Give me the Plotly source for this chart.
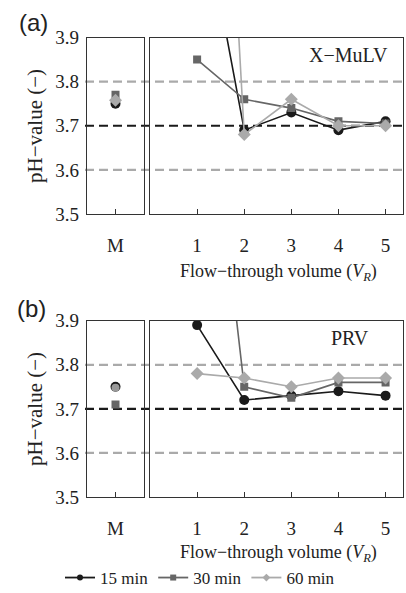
import plotly.graph_objects as go

# ---------------- data ----------------
vr = [1, 2, 3, 4, 5]
m_cat = ["M"]

series_names = ["15 min", "30 min", "60 min"]

# Panel (a) X-MuLV
a_15 = [4.26, 3.69, 3.73, 3.69, 3.71]
a_30 = [3.85, 3.76, 3.74, 3.71, 3.705]
a_60 = [5.60, 3.68, 3.76, 3.70, 3.70]
a_m = {"15 min": 3.75, "30 min": 3.77, "60 min": 3.758}

# Panel (b) PRV
b_15 = [3.89, 3.72, 3.73, 3.74, 3.73]
b_30 = [4.68, 3.75, 3.725, 3.76, 3.76]
b_60 = [3.78, 3.77, 3.75, 3.77, 3.77]
b_m = {"15 min": 3.75, "30 min": 3.71, "60 min": 3.748}

ref_levels = [3.6, 3.7, 3.8]
y_ticks = [3.5, 3.6, 3.7, 3.8, 3.9]

# ---------------- style ----------------
colors = {"15 min": "#1a1a1a", "30 min": "#666666", "60 min": "#aaaaaa"}
symbols = {"15 min": "circle", "30 min": "square", "60 min": "diamond"}
msize = {"15 min": 10, "30 min": 8, "60 min": 10}
serif = "Liberation Serif, Times New Roman, serif"
sans = "Liberation Sans, Arial, sans-serif"
axis_col = "#333333"
txt_col = "#222222"

W, H = 406, 593
MB = 80  # bottom margin (room for legend)
PH = H - MB


def px_y(py):
    """pixel row -> paper y"""
    return (PH - py) / PH


def px_x(px):
    return px / W


fig = go.Figure()

panels = [
    ("a", {"15 min": a_15, "30 min": a_30, "60 min": a_60}, a_m, "x", "y", "x2", "y2"),
    ("b", {"15 min": b_15, "30 min": b_30, "60 min": b_60}, b_m, "x3", "y3", "x4", "y4"),
]

for p, data, mvals, xl, yl, xr, yr in panels:
    for name in series_names:
        fig.add_trace(go.Scatter(
            x=vr, y=data[name], mode="lines+markers", name=name,
            xaxis=xr, yaxis=yr, legendgroup=name, showlegend=False,
            line=dict(color=colors[name], width=1.6),
            marker=dict(symbol=symbols[name], size=msize[name], color=colors[name]),
        ))
    for name in series_names:
        special = (p == "b" and name == "60 min")
        fig.add_trace(go.Scatter(
            x=m_cat, y=[mvals[name]], mode="markers", name=name,
            xaxis=xl, yaxis=yl, legendgroup=name, showlegend=False,
            marker=dict(symbol="circle" if special else symbols[name],
                        size=msize[name] - (2 if special else 0),
                        color="#999999" if special else colors[name]),
        ))

# legend entries (small markers as in the reference)
for name in series_names:
    fig.add_trace(go.Scatter(
        x=[None], y=[None], mode="lines+markers", name=name, legendgroup=name,
        xaxis="x2", yaxis="y2", showlegend=True,
        line=dict(color=colors[name], width=1.8),
        marker=dict(symbol=symbols[name], size=6, color=colors[name]),
    ))

# ---------------- layout ----------------
xL = [px_x(87), px_x(144)]
xR = [px_x(150), px_x(403)]
yA = [px_y(214), px_y(37.5)]
yB = [px_y(497), px_y(320.7)]

common_axis = dict(showline=True, linecolor=axis_col, linewidth=1.2, mirror=True,
                   showgrid=False, zeroline=False, ticks="inside", ticklen=5,
                   tickcolor=axis_col, automargin=False,
                   tickfont=dict(family=serif, size=19, color=txt_col))

xax = dict(common_axis, ticklabelstandoff=14)
yax = dict(common_axis, range=[3.5, 3.9], tickvals=y_ticks,
           ticktext=[f"{v:.1f}" for v in y_ticks], ticklen=0, ticklabelstandoff=3)

fig.update_layout(
    width=W, height=H, margin=dict(l=0, r=0, t=0, b=MB, autoexpand=False),
    paper_bgcolor="white", plot_bgcolor="white",
    showlegend=True,
    legend=dict(orientation="h", x=px_x(200), xanchor="center", y=px_y(578), yanchor="middle",
                font=dict(family=serif, size=17, color=txt_col), itemwidth=30,
                bgcolor="rgba(0,0,0,0)", tracegroupgap=0),
    xaxis=dict(xax, domain=xL, anchor="y", type="category", range=[-1, 1]),
    yaxis=dict(yax, domain=yA, anchor="x"),
    xaxis2=dict(xax, domain=xR, anchor="y2", range=[0, 5.37], tickvals=vr),
    yaxis2=dict(yax, domain=yA, anchor="x2", showticklabels=False),
    xaxis3=dict(xax, domain=xL, anchor="y3", type="category", range=[-1, 1]),
    yaxis3=dict(yax, domain=yB, anchor="x3"),
    xaxis4=dict(xax, domain=xR, anchor="y4", range=[0, 5.37], tickvals=vr),
    yaxis4=dict(yax, domain=yB, anchor="x4", showticklabels=False),
)

# reference dashed lines spanning both sub-panels
for yref in ["y", "y3"]:
    for lvl in ref_levels:
        fig.add_shape(type="line", xref="paper", yref=yref, x0=px_x(85), x1=px_x(403), y0=lvl, y1=lvl,
                      line=dict(color="#1a1a1a" if lvl == 3.7 else "#aaaaaa", width=2.2, dash="9px,5px"),
                      layer="below")

# axis titles
for cy in [126, 409]:
    fig.add_annotation(text="pH\u2212value (\u2212)", xref="paper", yref="paper",
                       x=px_x(35), y=px_y(cy), textangle=-90, showarrow=False,
                       xanchor="center", yanchor="middle",
                       font=dict(family=serif, size=21, color=txt_col))
for cy in [272, 553]:
    fig.add_annotation(text="Flow\u2212through volume (<i>V</i><sub><i>R</i></sub>)",
                       xref="paper", yref="paper", x=px_x(278), y=px_y(cy), showarrow=False,
                       xanchor="center", yanchor="middle",
                       font=dict(family=serif, size=18, color=txt_col))

# panel labels and virus names
fig.add_annotation(text="(a)", xref="paper", yref="paper", x=px_x(33), y=px_y(22.5),
                   xanchor="center", yanchor="middle",
                   showarrow=False, font=dict(family=sans, size=24, color=txt_col))
fig.add_annotation(text="(b)", xref="paper", yref="paper", x=px_x(31), y=px_y(308),
                   xanchor="center", yanchor="middle",
                   showarrow=False, font=dict(family=sans, size=24, color=txt_col))
fig.add_annotation(text="X\u2212MuLV", xref="x2 domain", yref="y2", x=(348 - 150) / 253, y=3.86,
                   xanchor="center", yanchor="middle",
                   showarrow=False, font=dict(family=serif, size=20, color=txt_col))
fig.add_annotation(text="PRV", xref="x4 domain", yref="y4", x=(350 - 150) / 253, y=3.86,
                   xanchor="center", yanchor="middle",
                   showarrow=False, font=dict(family=serif, size=20, color=txt_col))

fig.write_html("out.html")
